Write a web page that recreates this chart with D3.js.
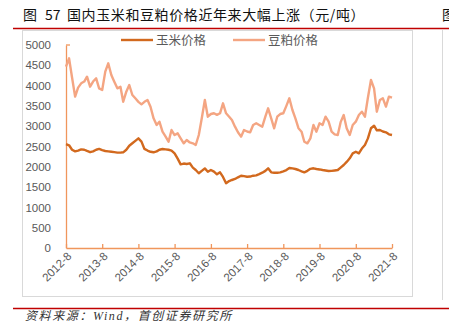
<!DOCTYPE html>
<html>
<head>
<meta charset="utf-8">
<script src="https://cdn.jsdelivr.net/npm/d3@7/dist/d3.min.js"></script>
<style>
  html, body { margin: 0; padding: 0; background: #fff; }
  svg { display: block; }
</style>
</head>
<body>
<svg id="chart" width="449" height="323"></svg>
<script>
// Monthly series, 2012-08 through 2021-08 (yuan / tonne)
const startMonth = "2012-08";
const endMonth = "2021-08";

const cornPrice = [
  2560, 2530, 2420, 2380, 2400, 2430, 2420, 2390, 2360, 2380, 2420, 2440,
  2410, 2390, 2380, 2370, 2360, 2350, 2350, 2357, 2420, 2520, 2580, 2640,
  2700, 2620, 2440, 2400, 2370, 2357, 2380, 2420, 2438, 2430, 2420, 2400,
  2330, 2200, 2060, 2080, 2070, 2086, 1980, 1921, 1840, 1900, 1960, 1879,
  1921, 1880, 1815, 1864, 1750, 1594, 1650, 1675, 1700, 1741, 1781, 1770,
  1756, 1760, 1781, 1790, 1820, 1855, 1900, 1963, 1864, 1855, 1855, 1864,
  1890, 1920, 1970, 1960, 1946, 1921, 1890, 1864, 1900, 1950, 1963, 1946,
  1935, 1921, 1910, 1897, 1900, 1910, 1921, 1980, 2044, 2120, 2209, 2330,
  2372, 2332, 2450, 2537, 2700, 2950, 3012, 2900, 2906, 2870, 2850, 2800,
  2783
];

const soyMealPrice = [
  4466, 4672, 4200, 3727, 3950, 4056, 4100, 4220, 3973, 4100, 4180, 3933,
  3892, 4343, 4549, 4261, 4096, 3933, 3973, 3603, 3850, 4015, 3768, 3687,
  3600, 3539, 3600, 3645, 3480, 3194, 3030, 3111, 2865, 2750, 2618, 2906,
  2783, 2824, 2700, 2578, 2660, 2600, 2578, 2537, 2783, 3194, 3645, 3234,
  3300, 3318, 3280, 3318, 3564, 3318, 3234, 3153, 2988, 2850, 2743, 2906,
  2870, 2850, 3030, 3071, 3030, 2988, 3234, 3441, 3194, 2948, 3234, 3300,
  3318, 3500, 3687, 3399, 3194, 2950, 2865, 2618, 2578, 2700, 3030, 2865,
  3071, 3030, 3234, 3111, 2865, 2800, 2783, 3100, 3276, 2948, 2783, 3030,
  3111, 3276, 3357, 3234, 3700, 4138, 3933, 3357, 3645, 3687, 3480, 3727,
  3702
];

const seriesNames = ["玉米价格", "豆粕价格"];
const seriesColors = ["#D2691E", "#F4A582"];
const xTickLabels = ["2012-8", "2013-8", "2014-8", "2015-8", "2016-8",
                     "2017-8", "2018-8", "2019-8", "2020-8", "2021-8"];
const yTicks = [0, 500, 1000, 1500, 2000, 2500, 3000, 3500, 4000, 4500, 5000];

const parseMonth = d3.timeParse("%Y-%m");
const months = d3.timeMonth.range(parseMonth(startMonth), d3.timeMonth.offset(parseMonth(endMonth), 1));
const xTickDates = xTickLabels.map(s => {
  const [yr, mo] = s.split("-");
  return new Date(+yr, +mo - 1, 1);
});

const svg = d3.select("#chart");
const axisColor = "#F0965C";
const labelColor = "#595959";
const cjk = "'Noto Sans CJK SC', sans-serif";

// page header
const titleParts = [[23, "图"], [45, "57"], [67, "国内玉米和豆粕价格近年来大幅上涨（元/吨）"]];
titleParts.forEach(([tx, t]) => {
  svg.append("text")
    .attr("x", tx).attr("y", 20)
    .attr("font-family", cjk)
    .attr("font-size", 14).attr("letter-spacing", t.length > 3 ? 0.6 : 0)
    .attr("fill", "#111")
    .text(t);
});
svg.append("text")
  .attr("x", 442).attr("y", 20)
  .attr("font-family", cjk)
  .attr("font-size", 14).attr("fill", "#111")
  .text("图");
svg.append("line").attr("x1", 13).attr("x2", 449).attr("y1", 28.5).attr("y2", 28.5)
  .attr("stroke", "#C00000").attr("stroke-width", 1.5);

// footer
svg.append("line").attr("x1", 13).attr("x2", 449).attr("y1", 308.5).attr("y2", 308.5)
  .attr("stroke", "#C00000").attr("stroke-width", 1.5);
svg.append("text")
  .attr("x", 25).attr("y", 320)
  .attr("font-family", "'Liberation Serif', 'Noto Sans CJK SC', serif")
  .attr("font-style", "italic")
  .attr("font-size", 12).attr("letter-spacing", 1.6).attr("fill", "#333")
  .text("资料来源：Wind，首创证券研究所");

// chart frame and neighbouring panel edge
svg.append("rect").attr("x", 22.5).attr("y", 30.5).attr("width", 390).attr("height", 266)
  .attr("fill", "none").attr("stroke", "#D9D9D9").attr("stroke-width", 1);
svg.append("line").attr("x1", 442.5).attr("x2", 442.5).attr("y1", 30).attr("y2", 300)
  .attr("stroke", "#D9D9D9").attr("stroke-width", 1);

const x = d3.scaleTime()
  .domain([parseMonth(startMonth), parseMonth(endMonth)])
  .range([66, 392]);
const y = d3.scaleLinear().domain([0, 5000]).range([248, 45]);

// y axis
const yAxis = svg.append("g").attr("transform", "translate(66,0)")
  .call(d3.axisLeft(y).tickValues(yTicks).tickFormat(d3.format("d")).tickSize(0).tickPadding(15));
yAxis.select(".domain").attr("stroke", axisColor).attr("stroke-width", 1.3);
yAxis.selectAll("text").attr("fill", labelColor)
  .attr("font-family", "'Liberation Sans', Arial, sans-serif").attr("font-size", 11.5);
svg.append("line").attr("x1", 66).attr("x2", 70).attr("y1", y(5000)).attr("y2", y(5000))
  .attr("stroke", axisColor).attr("stroke-width", 1.3);

// x axis
const xAxis = svg.append("g").attr("transform", "translate(0,248)")
  .call(d3.axisBottom(x).tickValues(xTickDates).tickSizeInner(-4).tickSizeOuter(0)
    .tickFormat((d, i) => xTickLabels[i]));
xAxis.select(".domain").attr("stroke", axisColor).attr("stroke-width", 1.3);
xAxis.selectAll(".tick line").attr("stroke", axisColor).attr("stroke-width", 1.3);
xAxis.selectAll("text")
  .attr("fill", labelColor)
  .attr("font-family", "'Liberation Sans', Arial, sans-serif").attr("font-size", 11.5)
  .attr("text-anchor", "end")
  .attr("transform", "translate(3,6) rotate(-45)")
  .attr("dy", "0.35em").attr("y", 0).attr("x", 0);

// series lines
const line = d3.line()
  .x((d, i) => x(months[i]))
  .y(d => y(d))
  .curve(d3.curveLinear);

svg.append("path").datum(soyMealPrice)
  .attr("fill", "none").attr("stroke", seriesColors[1]).attr("stroke-width", 2.4)
  .attr("stroke-linejoin", "round").attr("d", line);
svg.append("path").datum(cornPrice)
  .attr("fill", "none").attr("stroke", seriesColors[0]).attr("stroke-width", 2.4)
  .attr("stroke-linejoin", "round").attr("d", line);

// legend
const legend = svg.append("g");
const legendX = [121, 233];
seriesNames.forEach((name, i) => {
  legend.append("line").attr("x1", legendX[i]).attr("x2", legendX[i] + 32)
    .attr("y1", 40).attr("y2", 40)
    .attr("stroke", seriesColors[i]).attr("stroke-width", 2.4);
  legend.append("text").attr("x", legendX[i] + 35).attr("y", 44.5)
    .attr("font-family", cjk)
    .attr("font-size", 12.5).attr("fill", labelColor)
    .text(name);
});
</script>
</body>
</html>
